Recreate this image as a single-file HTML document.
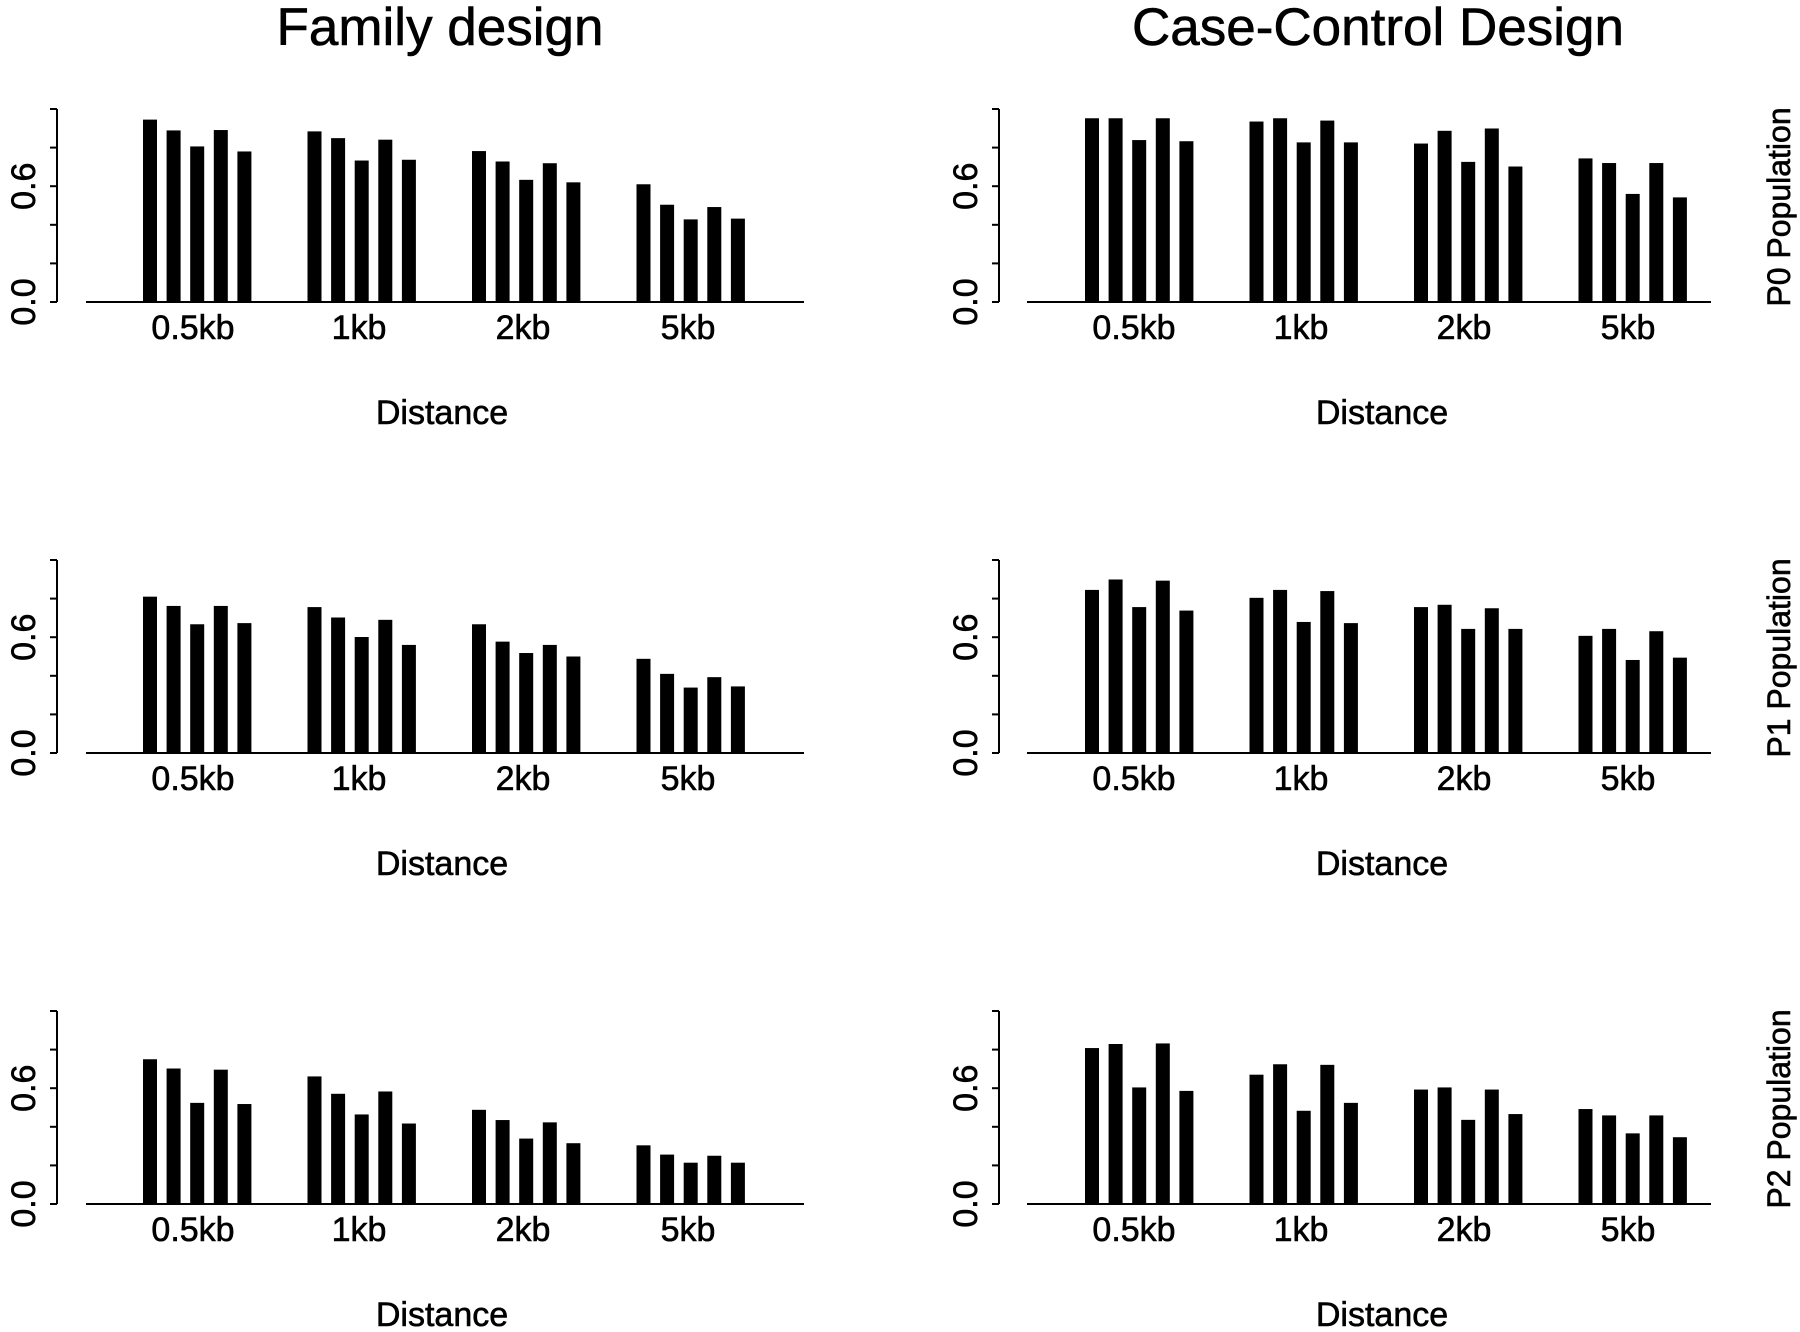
<!DOCTYPE html>
<html><head><meta charset="utf-8"><style>
html,body{margin:0;padding:0;background:#fff;}
svg{display:block;font-family:"Liberation Sans",Arial,sans-serif;}
text{stroke:#000;stroke-width:0.6px;}
</style></head><body>
<svg id="chart" width="1800" height="1332" viewBox="0 0 1800 1332" xmlns="http://www.w3.org/2000/svg">
<rect width="1800" height="1332" fill="#fff"/>
<text x="440" y="45" font-size="53" text-anchor="middle">Family design</text>
<text x="1378" y="45" font-size="53" text-anchor="middle">Case-Control Design</text>
</svg>
<script>
const categories = ["0.5kb","1kb","2kb","5kb"];
const rowLabels = ["P0 Population","P1 Population","P2 Population"];
const yTickValues = [0,0.2,0.4,0.6,0.8,1.0];
const yTickLabels = ["0.0","","","0.6","",""];
// values per panel: [group][bar]
const familyP0 = [[0.945,0.889,0.806,0.891,0.780],[0.884,0.849,0.733,0.841,0.737],[0.782,0.728,0.633,0.719,0.620],[0.610,0.504,0.428,0.492,0.432]];
const familyP1 = [[0.81,0.762,0.667,0.762,0.673],[0.756,0.702,0.601,0.69,0.56],[0.667,0.577,0.518,0.56,0.5],[0.488,0.41,0.339,0.393,0.345]];
const familyP2 = [[0.75,0.702,0.524,0.696,0.518],[0.661,0.571,0.464,0.583,0.417],[0.488,0.435,0.339,0.423,0.315],[0.304,0.256,0.214,0.25,0.214]];
const ccP0 = [[0.952,0.952,0.839,0.952,0.833],[0.935,0.952,0.827,0.94,0.827],[0.821,0.887,0.726,0.899,0.702],[0.744,0.72,0.56,0.72,0.542]];
const ccP1 = [[0.845,0.899,0.756,0.893,0.738],[0.804,0.845,0.679,0.839,0.673],[0.756,0.768,0.643,0.75,0.643],[0.607,0.643,0.482,0.631,0.494]];
const ccP2 = [[0.808,0.829,0.604,0.832,0.586],[0.670,0.724,0.483,0.721,0.524],[0.593,0.604,0.436,0.593,0.466],[0.492,0.459,0.366,0.459,0.346]];

const NS="http://www.w3.org/2000/svg";
const svg=document.getElementById('chart');
function mk(tag,attrs,parent){const e=document.createElementNS(NS,tag);for(const k in attrs)e.setAttribute(k,attrs[k]);(parent||svg).appendChild(e);return e;}

const panels=[
 {data:familyP0,col:0,row:0,name:'family-p0'},{data:ccP0,col:1,row:0,name:'case-control-p0'},
 {data:familyP1,col:0,row:1,name:'family-p1'},{data:ccP1,col:1,row:1,name:'case-control-p1'},
 {data:familyP2,col:0,row:2,name:'family-p2'},{data:ccP2,col:1,row:2,name:'case-control-p2'}];
const colCfg=[{axisX:57,lineX0:86,lineX1:804,firstBar:150,labelX:[193,359,523,688],distX:442},
              {axisX:999,lineX0:1027,lineX1:1711,firstBar:1092,labelX:[1134,1301,1464,1628],distX:1382}];
const barStep=23.6, groupStep=164.5, barW=14, ySpan=193;

panels.forEach(p=>{
  const c=colCfg[p.col];
  const zero=302+p.row*451;
  const y=v=>zero-v*ySpan;
  const g=mk('g',{});
  
  
  const ax=mk('line',{x1:c.axisX,x2:c.axisX,y1:y(1),y2:y(0),stroke:'#000','stroke-width':2},g);
  
  
  yTickValues.forEach((v,i)=>{
    const t=mk('line',{x1:c.axisX-7,x2:c.axisX,y1:y(v),y2:y(v),stroke:'#000','stroke-width':2},g);
    
    
    if(yTickLabels[i]){
      const tx=mk('text',{x:0,y:0,'font-size':34,'text-anchor':'middle',transform:`translate(${c.axisX-33},${y(v)}) rotate(-90)`,'dominant-baseline':'central'},g);
      tx.textContent=yTickLabels[i];
      
      
    }
  });
  const bl=mk('line',{x1:c.lineX0,x2:c.lineX1,y1:zero,y2:zero,stroke:'#000','stroke-width':2},g);
  
  
  p.data.forEach((grp,gi)=>{
    grp.forEach((v,bi)=>{
      const cx=c.firstBar+gi*groupStep+bi*barStep;
      const r=mk('rect',{x:cx-barW/2,y:y(v),width:barW,height:zero-y(v),fill:'#000'},g);
      
      
    });
    const lt=mk('text',{x:c.labelX[gi],y:zero+37,'font-size':34,'text-anchor':'middle'},g);
    lt.textContent=categories[gi];
    
    
  });
  const dt=mk('text',{x:c.distX,y:zero+122,'font-size':34,'text-anchor':'middle'},g);
  dt.textContent='Distance';
  
  
  if(p.col===1){
    const rl=mk('text',{x:0,y:0,'font-size':32,'text-anchor':'middle','dominant-baseline':'central',transform:`translate(1779,${zero-95}) rotate(-90)`},g);
    rl.textContent=rowLabels[p.row];
    
    
  }
});
</script>
</body></html>
